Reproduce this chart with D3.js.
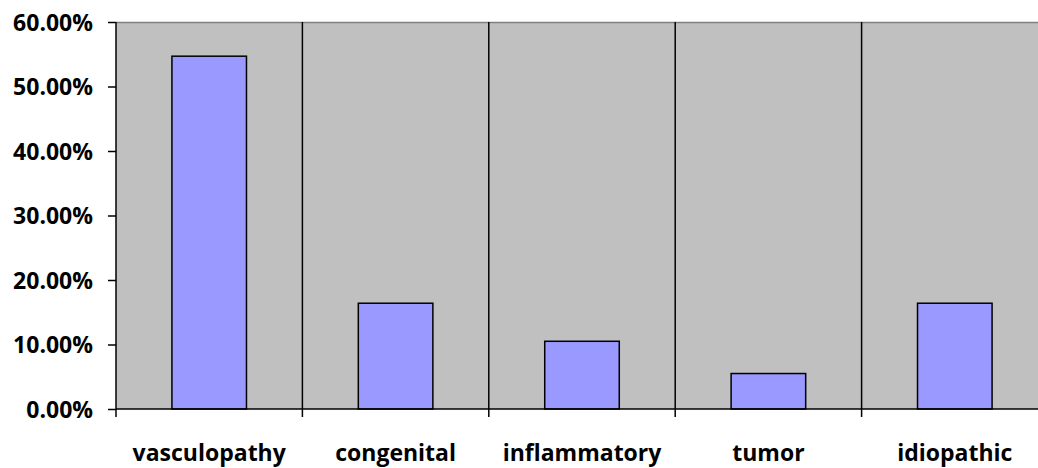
<!DOCTYPE html>
<html>
<head>
<meta charset="utf-8">
<script src="https://cdn.jsdelivr.net/npm/d3@7"></script>
<style>
  html, body { margin: 0; padding: 0; background: #fff; }
  svg { display: block; }
  .lbl { font-family: "Open Sans", Lato, sans-serif; font-weight: bold; fill: #000; }
</style>
</head>
<body>
<svg id="chart" width="1038" height="468"></svg>
<script>
const categories = ["vasculopathy", "congenital", "inflammatory", "tumor", "idiopathic"];
const values = [54.7, 16.4, 10.5, 5.5, 16.4];
const yTicks = [0, 10, 20, 30, 40, 50, 60];

const svg = d3.select("#chart");
const plotLeft = 116, plotTop = 22, plotBottom = 409, plotRight = 1048;

const x = d3.scaleBand().domain(categories).range([plotLeft, plotRight]).paddingInner(0).paddingOuter(0);
const y = d3.scaleLinear().domain([0, 60]).range([plotBottom, plotTop]);

// plot background
svg.append("rect")
  .attr("x", plotLeft).attr("y", plotTop)
  .attr("width", plotRight - plotLeft).attr("height", plotBottom - plotTop)
  .attr("fill", "#c0c0c0");

// top border
svg.append("line")
  .attr("x1", plotLeft).attr("x2", plotRight)
  .attr("y1", plotTop + 0.5).attr("y2", plotTop + 0.5)
  .attr("stroke", "#808080").attr("stroke-width", 1.5);

// vertical category separators
const seps = categories.slice(1).map(c => x(c));
svg.append("g").selectAll("line").data(seps).join("line")
  .attr("x1", d => d).attr("x2", d => d)
  .attr("y1", plotTop).attr("y2", plotBottom + 8)
  .attr("stroke", "#000").attr("stroke-width", 1.5);

// bars
const bw = x.bandwidth() * 0.4;
svg.append("g").selectAll("rect").data(values).join("rect")
  .attr("x", (d, i) => x(categories[i]) + x.bandwidth() / 2 - bw / 2)
  .attr("y", d => y(d))
  .attr("width", bw)
  .attr("height", d => plotBottom - y(d))
  .attr("fill", "#9999ff")
  .attr("stroke", "#000").attr("stroke-width", 1.5);

// y axis
const yAxis = d3.axisLeft(y).tickValues(yTicks).tickSize(8).tickPadding(15)
  .tickFormat(d => d3.format(".2f")(d) + "%");
const gy = svg.append("g").attr("transform", `translate(${plotLeft},0)`).call(yAxis);
gy.select(".domain").attr("stroke", "#000").attr("stroke-width", 1.5)
  .attr("d", `M0,${plotTop}V${plotBottom + 8}`);
gy.selectAll(".tick line").attr("stroke", "#000").attr("stroke-width", 1.5);
gy.selectAll(".tick text").attr("class", "lbl").style("font-size", "23px").attr("dy", "0.35em");

// x axis
const xAxis = d3.axisBottom(x).tickSize(0).tickPadding(36);
const gx = svg.append("g").attr("transform", `translate(0,${plotBottom})`).call(xAxis);
gx.select(".domain").attr("stroke", "#000").attr("stroke-width", 1.5)
  .attr("d", `M${plotLeft},0H${plotRight}`);
gx.selectAll(".tick text").attr("class", "lbl").style("font-size", "23px");
</script>
</body>
</html>
